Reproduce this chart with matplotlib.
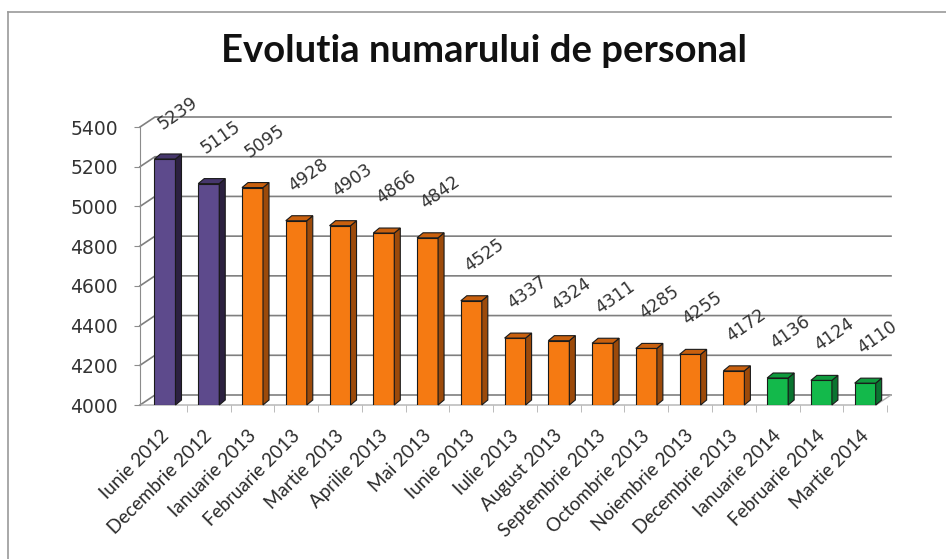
import matplotlib.pyplot as plt
from matplotlib.patches import Polygon
from matplotlib.lines import Line2D

# date
luni = ["Iunie 2012", "Decembrie 2012", "Ianuarie 2013", "Februarie 2013",
        "Martie 2013", "Aprilie 2013", "Mai 2013", "Iunie 2013", "Iulie 2013",
        "August 2013", "Septembrie 2013", "Octombrie 2013", "Noiembrie 2013",
        "Decembrie 2013", "Ianuarie 2014", "Februarie 2014", "Martie 2014"]
personal = [5239, 5115, 5095, 4928, 4903, 4866, 4842, 4525, 4337,
            4324, 4311, 4285, 4255, 4172, 4136, 4124, 4110]
grupa = ["mov", "mov", "portocaliu", "portocaliu", "portocaliu", "portocaliu",
         "portocaliu", "portocaliu", "portocaliu", "portocaliu", "portocaliu",
         "portocaliu", "portocaliu", "portocaliu", "verde", "verde", "verde"]
y_ticks = [4000, 4200, 4400, 4600, 4800, 5000, 5200, 5400]

# fata, lateral, sus
culori = {
    "mov": ("#5d4a8c", "#2c2140", "#46376c"),
    "portocaliu": ("#f57a12", "#9c4a0a", "#c9600e"),
    "verde": ("#13b94b", "#0a7430", "#0f9a3d"),
}

plt.rcParams['font.family'] = ['Lato', 'DejaVu Sans']
font_cifre = ['DejaVu Sans']  # cifrele din original sunt late

fig = plt.figure(figsize=(9.46, 5.59), dpi=100)
ax = fig.add_axes([140 / 946, 154 / 559, 751 / 946, 278 / 559])

xmin, xmax = -0.571, 16.59
ymin, ymax = 4000, 5400
ax.set_xlim(xmin, xmax)
ax.set_ylim(ymin, ymax)

px_x = (xmax - xmin) / 751  # unitati x pe pixel
px_y = (ymax - ymin) / 278  # unitati y pe pixel
gdx, gdy = 15 * px_x, 10 * px_y  # adancimea peretelui din spate
bdx, bdy = 6 * px_x, 5 * px_y    # adancimea coloanelor
latime = 21 * px_x

# liniile de grila pe peretele din spate (cu diagonala pe peretele din stanga)
for v in y_ticks:
    ax.plot([xmin, xmin + gdx, xmax], [v, v + gdy, v + gdy],
            color="#7f7f7f", lw=1.2, clip_on=False, zorder=1)
# marginea din fata a podelei
ax.plot([xmin, xmax - gdx, xmax], [ymin, ymin, ymin + gdy],
        color="#b0b0b0", lw=1.0, clip_on=False, zorder=1)

# coloane 3D
x = list(range(len(luni)))
fata = [culori[g][0] for g in grupa]
ax.bar(x, [p - ymin for p in personal], bottom=ymin, width=latime,
       color=fata, edgecolor="#1a1a1a", linewidth=0.8, zorder=3)
for i, (p, g) in enumerate(zip(personal, grupa)):
    st, dr = i - latime / 2, i + latime / 2
    lateral = Polygon([(dr, ymin), (dr + bdx, ymin + bdy), (dr + bdx, p + bdy), (dr, p)],
                      closed=True, facecolor=culori[g][1], edgecolor="#1a1a1a",
                      lw=0.8, zorder=3, clip_on=False)
    sus = Polygon([(st, p), (st + bdx, p + bdy), (dr + bdx, p + bdy), (dr, p)],
                  closed=True, facecolor=culori[g][2], edgecolor="#1a1a1a",
                  lw=0.8, zorder=3, clip_on=False)
    ax.add_patch(lateral)
    ax.add_patch(sus)
    # eticheta cu valoarea
    ax.annotate(str(p), (i, p), xytext=(9, 33), textcoords="offset points",
                ha="center", va="center", rotation=35, fontsize=12.5,
                family=font_cifre, color="#333333", zorder=4, annotation_clip=False)

# axe
for s in ["top", "right", "bottom"]:
    ax.spines[s].set_visible(False)
ax.spines["left"].set_color("#8c8c8c")
ax.set_yticks(y_ticks)
ax.set_yticklabels([str(t) for t in y_ticks], fontsize=13.5, color="#333333",
                   family=font_cifre)
ax.tick_params(axis="y", length=4, color="#8c8c8c", pad=12)

ax.set_xticks(x)
ax.set_xticklabels([])
ax.tick_params(axis="x", length=0)
ax.set_xticks([i + 0.5 for i in x], minor=True)
ax.tick_params(axis="x", which="minor", length=5, color="#b0b0b0")
for i, eticheta in enumerate(luni):
    ax.text(i - 0.12, ymin - 22 * px_y, eticheta, rotation=45, ha="right", va="top",
            rotation_mode="anchor", fontsize=13.5, color="#2a2a2a")

fig.text(0.512, 0.908, "Evolutia numarului de personal", ha="center", va="center",
         fontsize=27.5, fontweight="bold", color="#111111")

# chenarul graficului
fig.add_artist(Line2D([8 / 946, 8 / 946], [0, 547 / 559], color="#9a9a9a", lw=1.2))
fig.add_artist(Line2D([8 / 946, 1], [547 / 559, 547 / 559], color="#9a9a9a", lw=1.2))

fig.savefig("out.png", dpi=100)
